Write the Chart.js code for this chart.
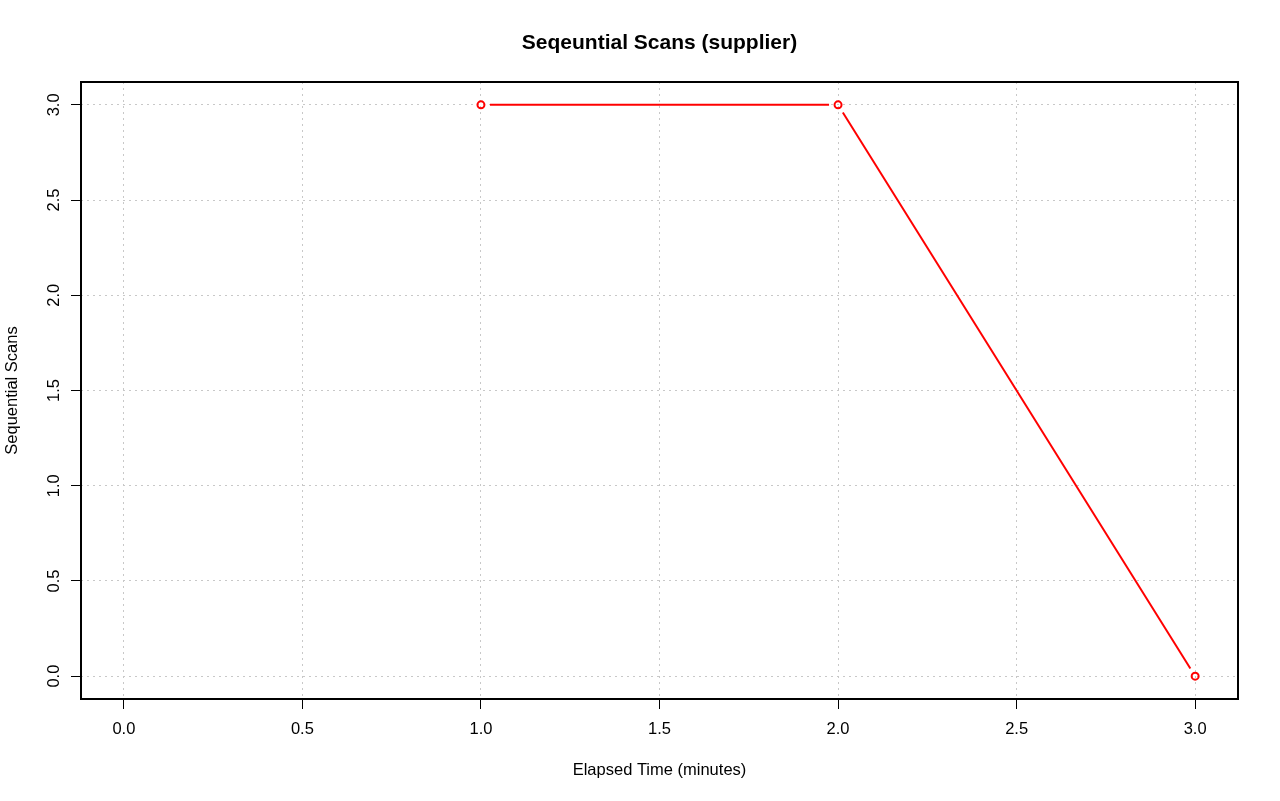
<!DOCTYPE html>
<html>
<head>
<meta charset="utf-8">
<script src="https://cdn.jsdelivr.net/npm/chart.js@4/dist/chart.umd.min.js"></script>
<style>
  body { margin: 0; background: #fff; }
  canvas { display: block; }
</style>
</head>
<body>
<canvas id="myChart" width="1280" height="801"></canvas>
<script>
// data
var elapsedMinutes = [1, 2, 3];
var seqScans = [3, 3, 0];
var xTicks = [0, 0.5, 1, 1.5, 2, 2.5, 3];
var yTicks = [0, 0.5, 1, 1.5, 2, 2.5, 3];

var FONT = "'Liberation Sans', Arial, Helvetica, sans-serif";
var chartTitle = 'Seqeuntial Scans (supplier)';

// R-style type="b": lines between points, with a gap around each point
var gapLines = {
  id: 'gapLines',
  afterDatasetsDraw: function(chart) {
    var meta = chart.getDatasetMeta(0);
    var ctx = chart.ctx;
    var gap = 9;
    ctx.save();
    ctx.strokeStyle = '#ff0000';
    ctx.lineWidth = 2;
    for (var i = 0; i < meta.data.length - 1; i++) {
      var a = meta.data[i], b = meta.data[i + 1];
      var dx = b.x - a.x, dy = b.y - a.y;
      var len = Math.sqrt(dx * dx + dy * dy);
      if (len <= 2 * gap) continue;
      var ux = dx / len, uy = dy / len;
      ctx.beginPath();
      ctx.moveTo(a.x + ux * gap, a.y + uy * gap);
      ctx.lineTo(b.x - ux * gap, b.y - uy * gap);
      ctx.stroke();
    }
    ctx.restore();
  },
  afterDraw: function(chart) {
    var ca = chart.chartArea;
    var ctx = chart.ctx;
    ctx.save();
    // box round the plot
    ctx.strokeStyle = '#000';
    ctx.lineWidth = 2;
    ctx.strokeRect(ca.left, ca.top, ca.right - ca.left, ca.bottom - ca.top);
    // title centred over the plot region
    ctx.fillStyle = '#000';
    ctx.font = 'bold 21px ' + FONT;
    ctx.textAlign = 'center';
    ctx.textBaseline = 'middle';
    ctx.fillText(chartTitle, (ca.left + ca.right) / 2, 43);
    ctx.restore();
  }
};

function fixedTicks(list) {
  return function(scale) {
    scale.ticks = list.map(function(v) { return { value: v }; });
  };
}

var gridOpts = {
  color: '#c8c8c8',
  lineWidth: 1,
  drawTicks: true,
  tickLength: 10,
  tickColor: '#000',
  tickWidth: 1,
  tickBorderDash: []
};
var borderOpts = { display: false, dash: [2, 4] };

var ctx = document.getElementById('myChart').getContext('2d');
var myChart = new Chart(ctx, {
  type: 'scatter',
  data: {
    datasets: [{
      data: elapsedMinutes.map(function(x, i) { return { x: x, y: seqScans[i] }; }),
      showLine: false,
      pointRadius: 3.5,
      pointBorderWidth: 2,
      pointBorderColor: '#ff0000',
      pointBackgroundColor: 'rgba(0,0,0,0)'
    }]
  },
  options: {
    responsive: false,
    animation: false,
    devicePixelRatio: 1,
    layout: { padding: { left: 0, right: 42, top: 82, bottom: 0 } },
    scales: {
      x: {
        type: 'linear',
        min: -0.12,
        max: 3.12,
        z: 1,
        afterBuildTicks: fixedTicks(xTicks),
        afterFit: function(scale) { scale.height = 102; },
        grid: gridOpts,
        border: borderOpts,
        ticks: {
          color: '#000',
          padding: 11,
          font: { family: FONT, size: 16.5 },
          callback: function(v) { return Number(v).toFixed(1); }
        },
        title: {
          display: true,
          text: 'Elapsed Time (minutes)',
          color: '#000',
          font: { family: FONT, size: 16.5 },
          padding: { top: 0, bottom: 21 }
        }
      },
      y: {
        type: 'linear',
        min: -0.12,
        max: 3.12,
        z: 1,
        afterBuildTicks: fixedTicks(yTicks),
        afterFit: function(scale) { scale.width = 81; },
        grid: gridOpts,
        border: borderOpts,
        ticks: {
          color: '#000',
          padding: 5,
          minRotation: 90,
          maxRotation: 90,
          crossAlign: 'center',
          font: { family: FONT, size: 16.5 },
          callback: function(v) { return Number(v).toFixed(1); }
        },
        title: {
          display: true,
          text: 'Sequential Scans',
          color: '#000',
          font: { family: FONT, size: 16.5 },
          padding: { top: 3, bottom: 0 }
        }
      }
    },
    plugins: {
      legend: { display: false },
      tooltip: { enabled: false },
      title: { display: false }
    }
  },
  plugins: [gapLines]
});
</script>
</body>
</html>
